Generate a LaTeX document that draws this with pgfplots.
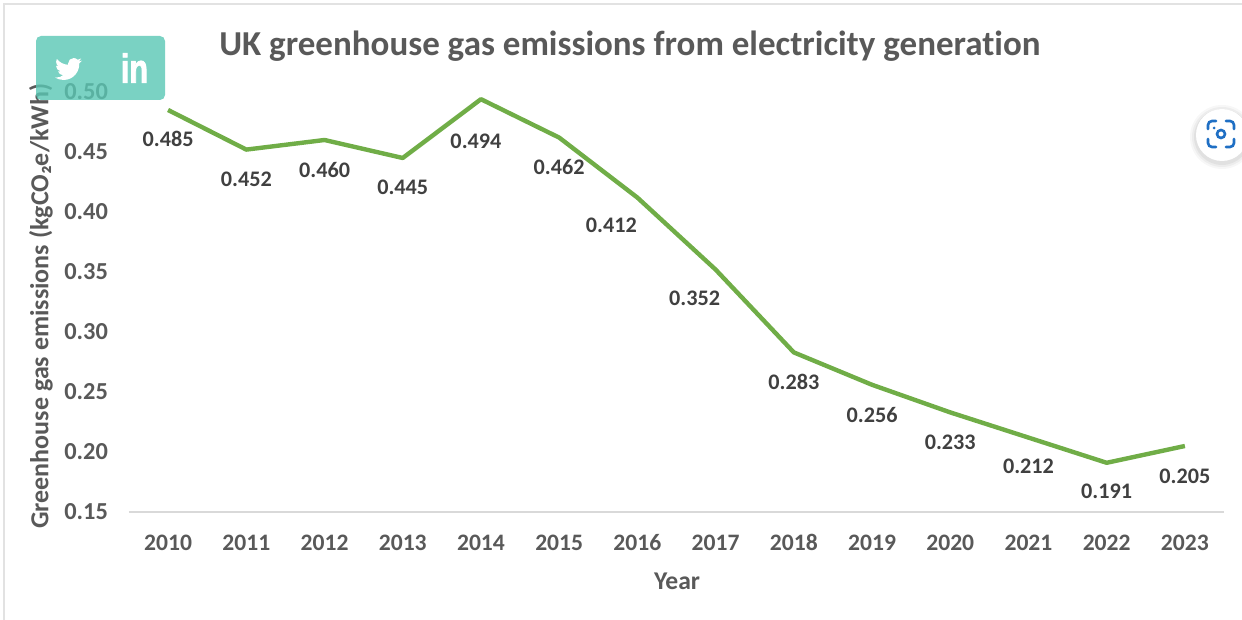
\documentclass[border=0pt]{standalone}
\usepackage{fontspec}
\setmainfont[Ligatures=NoCommon]{Carlito}
\newfontfamily\iconfont[BoldFeatures={FakeBold=2}]{Liberation Sans}
\usepackage{pgfplots}
\usepackage{pgfplotstable}
\pgfplotsset{compat=1.18}
\usetikzlibrary{svg.path}
\definecolor{linegreen}{HTML}{70AD47}
\definecolor{tickgray}{HTML}{595959}
\definecolor{labelgray}{HTML}{404040}
\definecolor{axisgray}{HTML}{D9D9D9}
\definecolor{framegray}{HTML}{E2E2E2}
\definecolor{shareteal}{HTML}{59C7B4}
\definecolor{lensblue}{HTML}{1F6FC4}

% year, value, label offset from the point (px of the reference)
\pgfplotstableread{
year value dx dy
2010 0.485 0 -29
2011 0.452 0 -30
2012 0.460 0 -30
2013 0.445 0 -29
2014 0.494 -5 -42
2015 0.462 0 -29
2016 0.412 -26 -28
2017 0.352 -21 -29
2018 0.283 0 -30
2019 0.256 0 -30
2020 0.233 0 -30
2021 0.212 0 -29
2022 0.191 0 -29
2023 0.205 0 -30
}\emissions

\begin{document}
\begin{tikzpicture}[x=0.5pt,y=0.5pt]
\useasboundingbox (0,0) rectangle (1242,620);
\draw[framegray,line width=1pt] (4,0) -- (4,616) -- (1242,616);
\begin{axis}[
	at={(64.5pt,54pt)}, anchor=south west,
	scale only axis,
	width=547.5pt, height=210pt,
	xmin=2009.5, xmax=2023.5,
	ymin=0.15, ymax=0.50,
	xtick=data,
	ytick={0.15,0.20,0.25,0.30,0.35,0.40,0.45,0.50},
	x tick label style={/pgf/number format/1000 sep=, /pgf/number format/assume math mode=true, font=\bfseries\fontsize{11.8}{13}\selectfont, text=tickgray, text height=8pt, text depth=0pt, yshift=-7.5pt},
	y tick label style={/pgf/number format/fixed, /pgf/number format/fixed zerofill, /pgf/number format/precision=2, /pgf/number format/assume math mode=true, font=\bfseries\fontsize{12.2}{13}\selectfont, text=tickgray, xshift=-7pt},
	major tick length=0pt,
	axis x line*=bottom, axis y line*=left,
	axis line style={-},
	x axis line style={draw=axisgray,line width=0.75pt},
	y axis line style={draw=none},
	every axis title shift=0pt,
	title={UK greenhouse gas emissions from electricity generation},
	title style={at={(0.4575,1.11)},anchor=center,font=\bfseries\fontsize{17.5}{20}\selectfont,text=tickgray},
	xlabel={Year},
	xlabel style={at={(0.5005,-0.164)},anchor=center,font=\bfseries\fontsize{12.8}{14}\selectfont,text=tickgray},
	ylabel={Greenhouse gas emissions (kgCO₂e/kWh)},
	ylabel style={at={(-0.0805,0.49)},anchor=center,rotate=0,font=\bfseries\fontsize{13}{15}\selectfont,text=tickgray},
	clip=false,
]
\addplot[
	linegreen, line width=2.2pt, line join=round,
	visualization depends on={\thisrow{dx}\as\labeldx},
	visualization depends on={\thisrow{dy}\as\labeldy},
	point meta=y,
	nodes near coords={\pgfmathprintnumber[fixed,fixed zerofill,precision=3,assume math mode=true]{\pgfplotspointmeta}},
	every node near coord/.append style={anchor=center,inner sep=0pt,font=\bfseries\fontsize{11.1}{13}\selectfont,text=labelgray,xshift=0.5*\labeldx,yshift=0.5*\labeldy},
] table[x=year,y=value] {\emissions};
\end{axis}
% share overlay of the screenshot
\fill[shareteal,opacity=0.8,rounded corners=2.5pt] (36,520) rectangle (165,584);
\begin{scope}[shift={(55,564.5)},xscale=0.5625,yscale=-0.5625]
\fill[white] svg {M23.953 4.57 C23.07 4.96 22.12 5.22 21.128 5.345 C22.14 4.74 22.92 3.78 23.291 2.622 C22.34 3.177 21.286 3.581 20.164 3.806 C19.27 2.85 17.99 2.26 16.57 2.26 C13.85 2.26 11.65 4.46 11.65 7.18 C11.65 7.57 11.69 7.94 11.78 8.288 C7.69 8.095 4.067 6.13 1.64 3.162 C1.21 3.89 .974 4.74 .974 5.637 C.974 7.347 1.844 8.85 3.162 9.733 C2.36 9.71 1.6 9.49 .934 9.117 L.934 9.177 C.934 11.56 2.63 13.55 4.88 14.004 C4.17 14.2 3.43 14.22 2.668 14.089 C3.3 16.05 5.12 17.47 7.272 17.506 C5.59 18.83 3.46 19.611 1.17 19.611 C.78 19.611 .391 19.588 0 19.544 C2.18 20.94 4.77 21.753 7.557 21.753 C16.61 21.753 21.555 14.257 21.555 7.768 C21.555 7.558 21.555 7.348 21.54 7.138 C22.5 6.44 23.34 5.58 24 4.59 Z};
\end{scope}
\node[white,font=\iconfont\bfseries\fontsize{17}{17}\selectfont,inner sep=0pt,xscale=0.9,yscale=1.2] at (134.5,552) {in};
% lens button at the right edge
\foreach \r/\o in {32/0.03,30/0.04,28/0.05}{\fill[black,opacity=\o] (1222,483) circle (\r);}
\fill[white] (1222,485) circle (26);
\begin{scope}[lensblue,line width=1.3pt,line cap=round]
\draw (1208,491) -- (1208,495) arc (180:90:4) -- (1216,499);
\draw (1226,499) -- (1230,499) arc (90:0:4) -- (1234,491);
\draw (1234,481) -- (1234,477) arc (0:-90:4) -- (1226,473);
\draw (1216,473) -- (1212,473) arc (-90:-180:4) -- (1208,481);
\draw (1221,486) circle (4);
\fill (1214,492) circle (1.5);
\end{scope}
\end{tikzpicture}
\end{document}
